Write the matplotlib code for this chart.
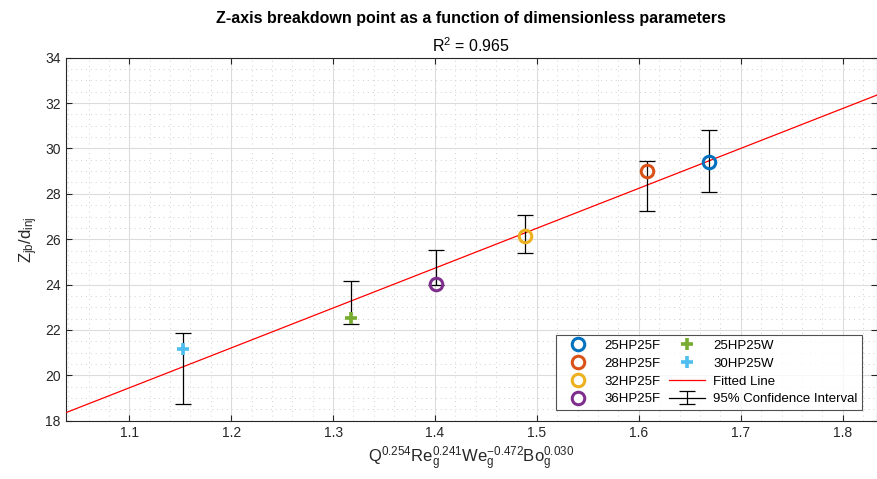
import matplotlib
matplotlib.use('Agg')
from matplotlib import pyplot as plt
from matplotlib.lines import Line2D
from matplotlib.container import ErrorbarContainer
from matplotlib.ticker import MultipleLocator
import numpy as np

plt.rcParams['font.family'] = ['Liberation Sans', 'DejaVu Sans']
plt.rcParams['mathtext.fontset'] = 'custom'
plt.rcParams['mathtext.rm'] = 'Liberation Sans'
plt.rcParams['mathtext.it'] = 'Liberation Sans'

# data
names = ['25HP25F', '28HP25F', '32HP25F', '36HP25F', '25HP25W', '30HP25W']
xvals = [1.6689, 1.6078, 1.4886, 1.4007, 1.3176, 1.1527]
yvals = [29.40, 29.00, 26.12, 24.02, 22.51, 21.15]
ci_low = [28.10, 27.23, 25.39, 24.00, 22.25, 18.75]
ci_high = [30.80, 29.44, 27.08, 25.54, 24.16, 21.85]
colors = ['#0072BD', '#D95319', '#EDB120', '#7E2F8E', '#77AC30', '#4DBEEE']
markers = ['o', 'o', 'o', 'o', 'P', 'P']
fit_slope = 17.59
fit_intercept = 0.10
r2 = 0.965

fig = plt.figure(figsize=(8.78, 4.79), dpi=100)
ax = fig.add_axes([0.0748, 0.1217, 0.9241, 0.7578])
xlim = (1.0376, 1.8337)
ax.set_xlim(*xlim)
ax.set_ylim(18, 34)

handles = []
for n, x, y, c, m in zip(names, xvals, yvals, colors, markers):
    if m == 'o':
        h, = ax.plot([x], [y], 'o', mfc='none', mec=c, mew=2.2, ms=9, label=n, zorder=5)
    else:
        h, = ax.plot([x], [y], marker='+', color=c, mew=2.6, ms=9, ls='none', label=n, zorder=5)
    handles.append(h)

xl = np.array(xlim)
fit, = ax.plot(xl, fit_slope * xl + fit_intercept, color='red', lw=0.9, label='Fitted Line', zorder=3)
handles.append(fit)

ci_low = np.array(ci_low)
ci_high = np.array(ci_high)
mid = (ci_low + ci_high) / 2
eb = ax.errorbar(xvals, mid, yerr=(ci_high - ci_low) / 2, fmt='none', ecolor='black',
                 elinewidth=0.9, capsize=5.5, capthick=0.9, zorder=4)
proxy = Line2D([], [], color='black', lw=0.9)
ci_handle = ErrorbarContainer((proxy, eb.lines[1], eb.lines[2]), has_xerr=False, has_yerr=True)
handles.append(ci_handle)
labels = names + ['Fitted Line', '95% Confidence Interval']

ax.xaxis.set_major_locator(MultipleLocator(0.1))
ax.xaxis.set_minor_locator(MultipleLocator(0.02))
ax.yaxis.set_major_locator(MultipleLocator(2))
ax.yaxis.set_minor_locator(MultipleLocator(0.5))
ax.grid(which='major', color='#dcdcdc', lw=0.8)
ax.grid(which='minor', color='#d0d0d0', lw=0.7, ls=(0, (1, 4)))
ax.set_axisbelow(True)
ax.tick_params(which='both', direction='in', top=True, right=True, labelsize=10, colors='#262626')
ax.tick_params(which='minor', length=0)
ax.tick_params(which='major', length=4)
for s in ax.spines.values():
    s.set_color('#262626')
    s.set_linewidth(0.8)
ax.set_xticks([1.1, 1.2, 1.3, 1.4, 1.5, 1.6, 1.7, 1.8])
ax.set_xticklabels(['1.1', '1.2', '1.3', '1.4', '1.5', '1.6', '1.7', '1.8'])

ax.set_xlabel(r'$\mathregular{Q^{0.254}Re_g^{0.241}We_g^{-0.472}Bo_g^{0.030}}$', fontsize=12, color='#262626')
ax.set_ylabel(r'$\mathregular{Z_{jb}/d_{inj}}$', fontsize=12, color='#262626', labelpad=4)

fig.text(0.536, 0.962, 'Z-axis breakdown point as a function of dimensionless parameters',
         ha='center', va='center', fontsize=11.5, fontweight='bold', color='black')
fig.text(0.536, 0.905, r'$\mathregular{R^2}$ = %.3f' % r2, ha='center', va='center',
         fontsize=11.5, color='black')

leg = ax.legend(handles, labels, ncol=2, loc='lower right', bbox_to_anchor=(0.9815, 0.0295),
                borderaxespad=0, fontsize=9.5, frameon=True, fancybox=False, edgecolor='#262626',
                handlelength=2.7, handletextpad=0.6, columnspacing=0.7, labelspacing=0.42,
                borderpad=0.35)
leg.get_frame().set_linewidth(0.8)

fig.savefig('out.png', dpi=100)
